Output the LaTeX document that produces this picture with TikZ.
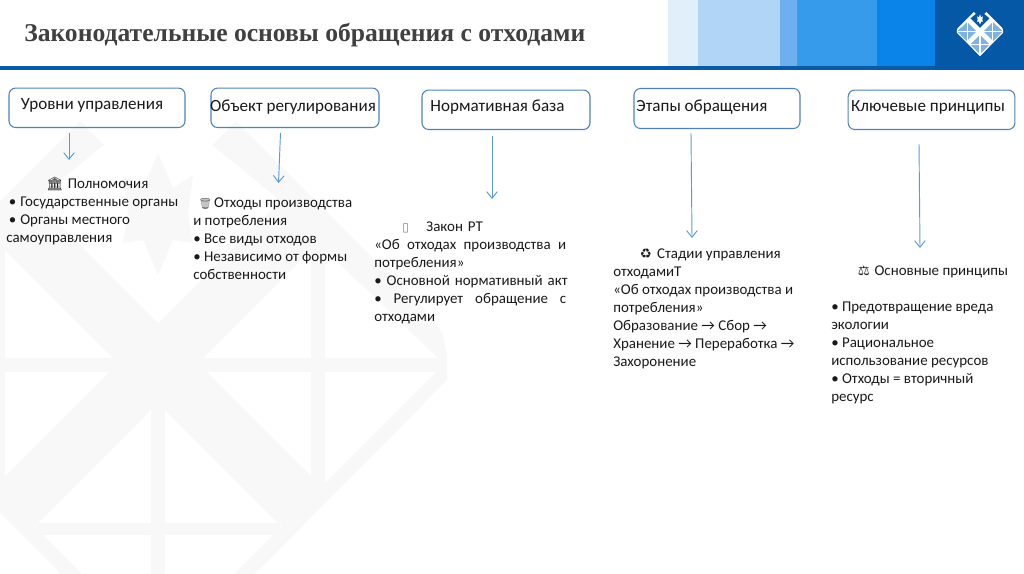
\documentclass[tikz,border=0pt]{standalone}
\usepackage{fontspec}
\setmainfont{Carlito}
\newfontfamily\titulofont{Liberation Serif}
\newfontfamily\emojifont{Noto Emoji}
\newfontfamily\simbolofont{DejaVu Sans}
\usetikzlibrary{arrows.meta}
\definecolor{azulcaja}{HTML}{4F81BD}
\definecolor{azulflecha}{HTML}{5B9BD5}
\definecolor{azulbarra}{HTML}{0B5AA5}
\definecolor{marcagris}{HTML}{F8F8F8}
\definecolor{franjaa}{HTML}{E1EFFB}
\definecolor{franjab}{HTML}{B1D5F7}
\definecolor{franjac}{HTML}{6EB0EE}
\definecolor{franjad}{HTML}{379BEC}
\definecolor{franjae}{HTML}{0A84E8}
\definecolor{franjaf}{HTML}{0558A5}
\definecolor{celda}{HTML}{7FB2E2}
\newcommand{\justa}[1]{\makebox[144pt][s]{\spaceskip=3pt plus 1fil\relax #1}}
% Formas del logotipo (coordenadas respecto al eje de simetria)
\newcommand{\marca}[1]{%
  \foreach \m in {1,-1} {
    \begin{scope}[xscale=\m]
      \fill[#1] (54,145) -- (78,121) -- (275,318) -- (285,335) -- (289,355) -- (289,380) -- (0,672) -- (0,650)
        -- (280,370) -- (280,358) -- (160,243) -- (-123.5,526.5) -- (-163.5,486.5) -- (122.5,200.5) -- cycle;
      \fill[#1] (153,240) rectangle (167,490);
      \fill[#1] (0,358) rectangle (282,372);
      \fill[#1] (0,523) rectangle (122,535);
      \fill[#1] (0,395) rectangle (7,660);
      \fill[#1] (0,153) -- (15,188) -- (35,175) -- (30,214) -- (35,243) -- (15,240) -- (0,275) -- cycle;
    \end{scope}
  }
}
\begin{document}
\begin{tikzpicture}[x=0.75pt, y=-0.75pt,
    caja/.style={draw=azulcaja, line width=0.8pt, rounded corners=5pt, inner sep=0pt},
    titulo/.style={font=\fontsize{12.8}{14}\selectfont, text=black!90, inner sep=0pt},
    bloque/.style={anchor=north west, align=left, inner sep=0pt, text=black!90, font=\fontsize{11.2}{13.5}\selectfont},
    flecha/.style={draw=azulflecha, line width=0.7pt, -{Straight Barb[length=5pt,width=8pt]}}]
    \useasboundingbox (0,0) rectangle (1024,574);

    % Marca de agua
    \begin{scope}
        \clip (0,70) rectangle (1024,574);
        \begin{scope}[shift={(158,0)}]
            \marca{marcagris}
        \end{scope}
    \end{scope}

    % Cabecera
    \fill[azulbarra] (0,66.5) rectangle (1024,70);
    \fill[franjaa] (668,0) rectangle (698,66.5);
    \fill[franjab] (698,0) rectangle (780,66.5);
    \fill[franjac] (780,0) rectangle (797,66.5);
    \fill[franjad] (797,0) rectangle (877,66.5);
    \fill[franjae] (877,0) rectangle (935,66.5);
    \fill[franjaf] (935,0) rectangle (1024,70);
    \begin{scope}[shift={(980,2.32)}, scale=0.08]
        \fill[celda] (-122,200) -- (0,323) -- (122,200) -- (289,370) -- (0,672) -- (-289,370) -- cycle;
        \marca{white}
    \end{scope}
    \node[anchor=west, inner sep=0pt, text=black!75, font=\titulofont\bfseries\fontsize{19.2}{22}\selectfont] (encabezado) at (24,35)
        {Законодательные основы обращения с отходами};

    % Cajas superiores
    \node[caja, minimum width=132pt, minimum height=29.6pt] (niveles) at (97,107.8) {};
    \node[caja, minimum width=126pt, minimum height=29.6pt] (objeto) at (295,107.8) {};
    \node[caja, minimum width=126pt, minimum height=29.6pt] (base) at (506,109.8) {};
    \node[caja, minimum width=124.5pt, minimum height=30pt] (etapas) at (717,108.5) {};
    \node[caja, minimum width=125pt, minimum height=29.6pt] (principios) at (931.5,109.8) {};

    \node[titulo] (tniveles) at (92,105.5) {Уровни управления};
    \node[titulo] (tobjeto) at (293,107) {Объект регулирования};
    \node[titulo] (tbase) at (497.5,107.5) {Нормативная база};
    \node[titulo] (tetapas) at (702,107.5) {Этапы обращения};
    \node[titulo] (tprincipios) at (928,107.5) {Ключевые принципы};

    % Flechas
    \coordinate (a1) at (69,133);
    \coordinate (b1) at (69,160);
    \coordinate (a2) at (280.5,133);
    \coordinate (b2) at (278.5,183);
    \coordinate (a3) at (492,136);
    \coordinate (b3) at (492,199);
    \coordinate (a4) at (691,133);
    \coordinate (b4) at (692,238);
    \coordinate (a5) at (919,144);
    \coordinate (b5) at (920,248);
    \foreach \i in {1,...,5}
        \draw[flecha] (a\i) -- (b\i);

    % Textos
    \node[bloque] (poderes) at (6,177) {%
        \hspace*{30pt}{\emojifont\fontsize{10}{10}\selectfont 🏛}\hspace{3.5pt}Полномочия\\
        \hspace*{2pt}•\hspace{3pt}Государственные органы\\
        \hspace*{2pt}•\hspace{3pt}Органы местного\\
        самоуправления};
    \node[bloque] (residuos) at (193,198) {%
        \hspace*{4pt}{\emojifont\color{gray}\fontsize{8}{8}\selectfont 🗑}\hspace{1.5pt}Отходы производства\\
        и потребления\\
        • Все виды отходов\\
        • Независимо от формы\\
        собственности};
    \node[bloque, text width=146pt] (ley) at (374,222) {%
        \hspace*{21pt}{\simbolofont\color{gray}\fontsize{9}{9}\selectfont ▯}\hspace{13pt}Закон РТ\\
        \justa{«Об отходах производства и}\\
        потребления»\\
        • Основной нормативный акт\\
        \justa{• Регулирует обращение с}\\
        отходами};
    \node[bloque] (estadios) at (613,249) {%
        \hspace*{20pt}{\simbolofont\fontsize{10}{10}\selectfont ♻}\hspace{4pt}Стадии управления\\
        отходамиТ\\
        «Об отходах производства и\\
        потребления»\\
        Образование → Сбор →\\
        Хранение → Переработка →\\
        Захоронение};
    \node[bloque] (fundamentos) at (831,265) {%
        \hspace*{20pt}{\simbolofont\fontsize{10}{10}\selectfont ⚖}\hspace{3.5pt}Основные принципы\\[13.5pt]
        • Предотвращение вреда\\
        экологии\\
        • Рациональное\\
        использование ресурсов\\
        • Отходы = вторичный\\
        ресурс};
\end{tikzpicture}
\end{document}
